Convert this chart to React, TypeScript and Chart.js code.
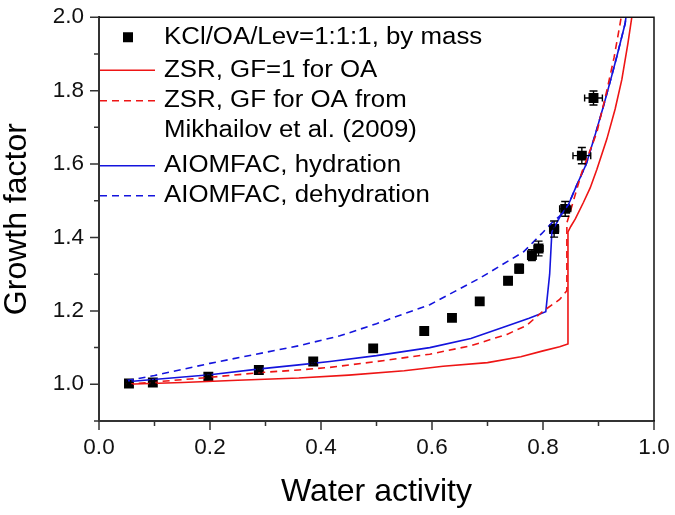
import React, { useEffect, useRef } from 'react';
import { Chart, registerables } from 'chart.js';

Chart.register(...registerables);

// Measured growth factors (KCl/OA/Lev = 1:1:1 by mass)
const measX = [0.054, 0.097, 0.197, 0.288, 0.386, 0.494, 0.586, 0.636, 0.686, 0.737, 0.757, 0.780, 0.792, 0.820, 0.840, 0.870, 0.891];
const measY = [1.002, 1.005, 1.021, 1.039, 1.062, 1.098, 1.145, 1.181, 1.226, 1.282, 1.315, 1.352, 1.370, 1.423, 1.478, 1.623, 1.780];
const measXErr = [0.003, 0.003, 0.004, 0.004, 0.005, 0.005, 0.005, 0.005, 0.006, 0.006, 0.006, 0.007, 0.008, 0.008, 0.010, 0.016, 0.016];
const measYErr = [0.004, 0.004, 0.004, 0.005, 0.005, 0.006, 0.006, 0.007, 0.008, 0.010, 0.012, 0.015, 0.020, 0.022, 0.020, 0.022, 0.019];

// ZSR, GF=1 for OA
const zsr1X = [0.05, 0.15, 0.25, 0.36, 0.45, 0.55, 0.62, 0.70, 0.76, 0.80, 0.83, 0.845, 0.845, 0.85, 0.858, 0.873, 0.885, 0.897, 0.915, 0.93, 0.942, 0.953, 0.960, 0.962];
const zsr1Y = [1.0, 1.005, 1.011, 1.017, 1.025, 1.037, 1.049, 1.059, 1.075, 1.091, 1.102, 1.11, 1.415, 1.43, 1.45, 1.496, 1.535, 1.585, 1.668, 1.75, 1.83, 1.929, 2.0, 2.03];

// ZSR, GF for OA from Mikhailov et al. (2009)
const zsrMX = [0.05, 0.2, 0.29, 0.36, 0.416, 0.5, 0.596, 0.67, 0.735, 0.77, 0.80, 0.83, 0.843, 0.843, 0.85, 0.87, 0.897, 0.915, 0.928, 0.939, 0.944];
const zsrMY = [1.0, 1.019, 1.032, 1.039, 1.046, 1.062, 1.082, 1.105, 1.136, 1.16, 1.199, 1.231, 1.255, 1.44, 1.475, 1.578, 1.686, 1.80, 1.89, 1.983, 2.03];

// AIOMFAC, hydration
const aioHX = [0.05, 0.2, 0.29, 0.36, 0.416, 0.5, 0.596, 0.67, 0.735, 0.775, 0.805, 0.812, 0.816, 0.83, 0.846, 0.86, 0.878, 0.895, 0.909, 0.922, 0.933, 0.948, 0.952];
const aioHY = [1.007, 1.026, 1.042, 1.053, 1.062, 1.078, 1.10, 1.125, 1.159, 1.18, 1.198, 1.30, 1.415, 1.455, 1.49, 1.54, 1.60, 1.685, 1.758, 1.83, 1.893, 1.983, 2.03];

// AIOMFAC, dehydration
const aioDX = [0.05, 0.1, 0.2, 0.3, 0.36, 0.434, 0.5, 0.596, 0.686, 0.765, 0.798, 0.816, 0.83, 0.846, 0.86, 0.878, 0.895, 0.909, 0.922, 0.933, 0.948, 0.952];
const aioDY = [1.01, 1.024, 1.057, 1.087, 1.105, 1.132, 1.165, 1.217, 1.289, 1.361, 1.411, 1.44, 1.458, 1.49, 1.54, 1.60, 1.685, 1.758, 1.83, 1.893, 1.983, 2.03];

const legendLabels = [
  ['KCl/OA/Lev=1:1:1, by mass'],
  ['ZSR, GF=1 for OA'],
  ['ZSR, GF for OA from', 'Mikhailov et al. (2009)'],
  ['AIOMFAC, hydration'],
  ['AIOMFAC, dehydration'],
];

const xTitle = 'Water activity';
const yTitle = 'Growth factor';

const RED = '#ee1515';
const BLUE = '#1414dd';
const FONT = 'Arial, "Liberation Sans", sans-serif';

const toXY = (xs: number[], ys: number[]) => xs.map((x, i) => ({ x, y: ys[i] }));
const isMajor = (v: number) => Math.round(v * 10) % 2 === 0;

const customPlugin = {
  id: 'custom',
  afterDatasetsDraw(chart: any) {
    const ctx = chart.ctx;
    const xs = chart.scales.x;
    const ys = chart.scales.y;
    ctx.save();
    ctx.strokeStyle = '#000';
    ctx.lineWidth = 1.4;
    measX.forEach((xv, i) => {
      const px = xs.getPixelForValue(xv);
      const py = ys.getPixelForValue(measY[i]);
      const x1 = xs.getPixelForValue(xv - measXErr[i]);
      const x2 = xs.getPixelForValue(xv + measXErr[i]);
      const y1 = ys.getPixelForValue(measY[i] - measYErr[i]);
      const y2 = ys.getPixelForValue(measY[i] + measYErr[i]);
      ctx.beginPath();
      ctx.moveTo(x1, py); ctx.lineTo(x2, py);
      ctx.moveTo(x1, py - 3.5); ctx.lineTo(x1, py + 3.5);
      ctx.moveTo(x2, py - 3.5); ctx.lineTo(x2, py + 3.5);
      ctx.moveTo(px, y1); ctx.lineTo(px, y2);
      ctx.moveTo(px - 4, y1); ctx.lineTo(px + 4, y1);
      ctx.moveTo(px - 4, y2); ctx.lineTo(px + 4, y2);
      ctx.stroke();
    });
    ctx.restore();
  },
  afterDraw(chart: any) {
    const ctx = chart.ctx;
    const xs = chart.scales.x;
    const ys = chart.scales.y;
    const area = chart.chartArea;
    ctx.save();
    // frame top / right
    ctx.strokeStyle = '#111';
    ctx.lineWidth = 1.5;
    ctx.beginPath();
    ctx.moveTo(area.left, area.top);
    ctx.lineTo(area.right, area.top);
    ctx.lineTo(area.right, area.bottom);
    ctx.stroke();
    // ticks
    ctx.strokeStyle = '#333';
    ctx.lineWidth = 1.5;
    ctx.beginPath();
    xs.ticks.forEach((t: any) => {
      const px = xs.getPixelForValue(t.value);
      const len = isMajor(t.value) ? 9 : 5;
      ctx.moveTo(px, area.bottom);
      ctx.lineTo(px, area.bottom + len);
    });
    ys.ticks.forEach((t: any) => {
      const py = ys.getPixelForValue(t.value);
      const len = isMajor(t.value) ? 9 : 5;
      ctx.moveTo(area.left, py);
      ctx.lineTo(area.left - len, py);
    });
    ctx.stroke();

    // legend
    const lx0 = area.left + 1;
    const lx1 = area.left + 56;
    const tx = area.left + 65;
    const rowY = [20, 53, 83.5, 113.5, 148.5, 178.5].map((d) => area.top + d);
    ctx.font = `23.5px ${FONT}`;
    ctx.fillStyle = '#000';
    ctx.textBaseline = 'middle';
    ctx.textAlign = 'left';
    const text = (s: string, y: number) => {
      ctx.save();
      ctx.translate(tx, y);
      ctx.scale(1.1, 1);
      ctx.fillText(s, 0, 0);
      ctx.restore();
    };
    ctx.fillRect(area.left + 29 - 5, rowY[0] - 5, 10, 10);
    text(legendLabels[0][0], rowY[0]);
    const lineRow = (y: number, color: string, dash: number[]) => {
      ctx.save();
      ctx.strokeStyle = color;
      ctx.lineWidth = 1.6;
      ctx.setLineDash(dash);
      ctx.beginPath();
      ctx.moveTo(lx0, y);
      ctx.lineTo(lx1, y);
      ctx.stroke();
      ctx.restore();
    };
    lineRow(rowY[1], RED, []);
    text(legendLabels[1][0], rowY[1]);
    lineRow(rowY[2], RED, [7, 5]);
    text(legendLabels[2][0], rowY[2]);
    text(legendLabels[2][1], rowY[3]);
    lineRow(rowY[4], BLUE, []);
    text(legendLabels[3][0], rowY[4]);
    lineRow(rowY[5], BLUE, [7, 5]);
    text(legendLabels[4][0], rowY[5]);
    ctx.restore();
  },
};

export default function App() {
  const ref = useRef<HTMLCanvasElement>(null);
  useEffect(() => {
    if (!ref.current) return;
    const lineDs = (label: string, xs: number[], ys: number[], color: string, dash: number[]) => ({
      type: 'scatter' as const,
      label,
      data: toXY(xs, ys),
      showLine: true,
      borderColor: color,
      backgroundColor: color,
      borderWidth: 1.6,
      borderDash: dash,
      pointRadius: 0,
      tension: 0,
    });
    const chart = new Chart(ref.current, {
      type: 'scatter',
      data: {
        datasets: [
          lineDs('ZSR, GF=1 for OA', zsr1X, zsr1Y, RED, []),
          lineDs('ZSR, GF for OA from Mikhailov et al. (2009)', zsrMX, zsrMY, RED, [7, 5]),
          lineDs('AIOMFAC, hydration', aioHX, aioHY, BLUE, []),
          lineDs('AIOMFAC, dehydration', aioDX, aioDY, BLUE, [7, 5]),
          {
            type: 'scatter',
            label: 'KCl/OA/Lev=1:1:1, by mass',
            data: toXY(measX, measY),
            pointStyle: 'rect',
            pointRadius: 7,
            pointBackgroundColor: '#000',
            pointBorderColor: '#000',
            pointBorderWidth: 0,
            showLine: false,
          } as any,
        ],
      },
      options: {
        animation: false,
        responsive: false,
        maintainAspectRatio: false,
        devicePixelRatio: 1,
        layout: { padding: { left: 0, right: 21, top: 12, bottom: 0 } },
        plugins: { legend: { display: false }, tooltip: { enabled: false }, title: { display: false } },
        scales: {
          x: {
            type: 'linear',
            min: 0,
            max: 1,
            afterFit: (s: any) => { s.height = 94; },
            border: { display: true, color: '#333', width: 2 },
            grid: { display: true, drawOnChartArea: false, drawTicks: true, tickLength: 9, tickColor: 'rgba(0,0,0,0)' },
            ticks: {
              stepSize: 0.1,
              autoSkip: false,
              maxRotation: 0,
              padding: 4,
              color: '#111',
              font: { family: FONT, size: 22.5 },
              callback: (v: any) => (isMajor(Number(v)) ? Number(v).toFixed(1) : ''),
            },
            title: { display: true, text: xTitle, color: '#000', font: { family: FONT, size: 32, lineHeight: 1 }, padding: { top: 0, bottom: 7 } },
          },
          y: {
            type: 'linear',
            min: 0.9,
            max: 2.0,
            afterFit: (s: any) => { s.width = 99; },
            border: { display: true, color: '#333', width: 2 },
            grid: { display: true, drawOnChartArea: false, drawTicks: true, tickLength: 9, tickColor: 'rgba(0,0,0,0)' },
            ticks: {
              stepSize: 0.1,
              autoSkip: false,
              padding: 6,
              color: '#111',
              font: { family: FONT, size: 22.5, lineHeight: 1 },
              callback: (v: any) => (isMajor(Number(v)) ? Number(v).toFixed(1) : ''),
            },
            title: { display: true, text: yTitle, color: '#000', font: { family: FONT, size: 32, lineHeight: 1 }, padding: { top: 1, bottom: 0 } },
          },
        },
      },
      plugins: [customPlugin],
    });
    return () => chart.destroy();
  }, []);
  return (
    <div style={{ position: 'fixed', left: 0, top: 0, width: 675, height: 515, background: '#fff' }}>
      <canvas ref={ref} width={675} height={515} style={{ width: 675, height: 515, display: 'block' }} />
    </div>
  );
}
